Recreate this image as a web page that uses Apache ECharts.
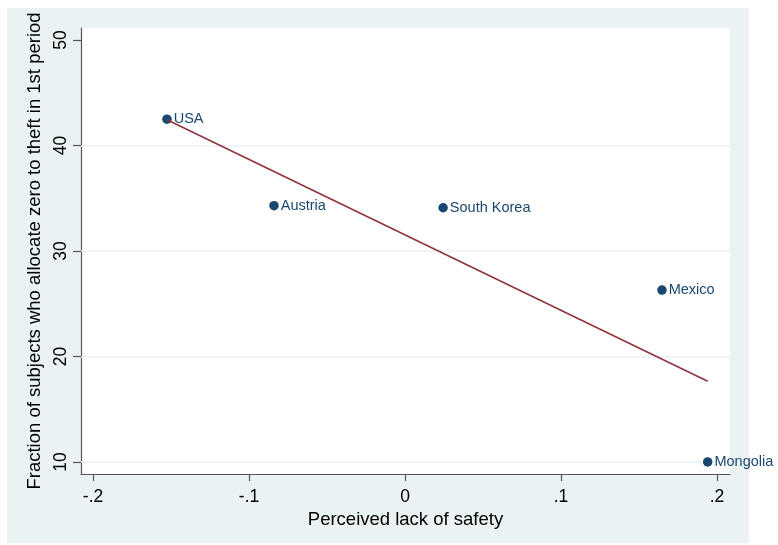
<!DOCTYPE html>
<html>
<head>
<meta charset="utf-8">
<script src="https://cdn.jsdelivr.net/npm/echarts@6/dist/echarts.min.js"></script>
<style>html,body{margin:0;padding:0;background:#fff}#c{width:778px;height:545px}</style>
</head>
<body>
<div id="c"></div>
<script>
var countries = ["USA", "Austria", "South Korea", "Mexico", "Mongolia"];
var lackOfSafety = [-0.1526, -0.084, 0.0244, 0.1647, 0.194];
var fractionZero = [42.5, 34.3, 34.1, 26.3, 10.0];
var fitX = [-0.1526, 0.194];
var fitY = [42.45, 17.65];
var xTicks = [-0.2, -0.1, 0, 0.1, 0.2];
var xTickLabels = ["-.2", "-.1", "0", ".1", ".2"];
var yTicks = [10, 20, 30, 40, 50];
var yTickLabels = ["10", "20", "30", "40", "50"];
var yGridValues = [10, 20, 30, 40];

var font = "Liberation Sans";
var chart = echarts.init(document.getElementById('c'), null, {renderer: 'canvas'});
var pts = countries.map(function (n, i) { return [lackOfSafety[i], fractionZero[i], n]; });
var fit = fitX.map(function (x, i) { return [x, fitY[i]]; });

chart.setOption({
  animation: false,
  graphic: [{
    type: 'rect', z: -10, silent: true,
    shape: {x: 7, y: 8, width: 742, height: 535},
    style: {fill: '#EAF2F3'}
  }],
  grid: {left: 81, top: 28, right: 48, bottom: 71, show: true, backgroundColor: '#ffffff', borderWidth: 0},
  xAxis: {
    type: 'value', min: -0.2077, max: 0.2083,
    name: 'Perceived lack of safety', nameLocation: 'middle', nameGap: 32,
    nameTextStyle: {fontFamily: font, fontSize: 18.5, color: '#000'},
    axisLine: {show: true, onZero: false, lineStyle: {color: '#555', width: 1.2}},
    axisTick: {show: true, length: 7, lineStyle: {color: '#555', width: 1.2}, customValues: xTicks},
    axisLabel: {
      fontFamily: font, fontSize: 17.5, color: '#000', margin: 14, customValues: xTicks,
      formatter: function (v) { var i = xTicks.findIndex(function (t) { return Math.abs(t - v) < 1e-9; }); return i >= 0 ? xTickLabels[i] : ''; }
    },
    splitLine: {show: false}
  },
  yAxis: {
    type: 'value', min: 8.86, max: 51.14,
    name: 'Fraction of subjects who allocate zero to theft in 1st period', nameLocation: 'middle', nameGap: 30,
    nameTextStyle: {fontFamily: font, fontSize: 18.5, color: '#000'},
    axisLine: {show: true, onZero: false, lineStyle: {color: '#555', width: 1.2}},
    axisTick: {show: true, length: 8, lineStyle: {color: '#555', width: 1.2}, customValues: yTicks},
    axisLabel: {
      fontFamily: font, fontSize: 17.5, color: '#000', rotate: 90, margin: 11, customValues: yTicks,
      formatter: function (v) { var i = yTicks.findIndex(function (t) { return Math.abs(t - v) < 1e-9; }); return i >= 0 ? yTickLabels[i] : ''; }
    },
    splitLine: {show: false}
  },
  series: [
    {
      type: 'scatter', data: pts, symbolSize: 9.5, z: 3,
      itemStyle: {color: '#1A476F', opacity: 1},
      label: {
        show: true, position: 'right', distance: 2,
        fontFamily: font, fontSize: 14.5, color: '#1A476F',
        formatter: function (p) { return p.data[2]; }
      },
      markLine: {
        silent: true, symbol: 'none', z: 1,
        label: {show: false},
        lineStyle: {color: '#EAF2F3', width: 1.5, type: 'solid'},
        data: yGridValues.map(function (v) { return {yAxis: v}; })
      }
    },
    {
      type: 'line', data: fit, symbol: 'none', z: 4,
      lineStyle: {color: '#90353B', width: 1.6}
    }
  ]
});
</script>
</body>
</html>
